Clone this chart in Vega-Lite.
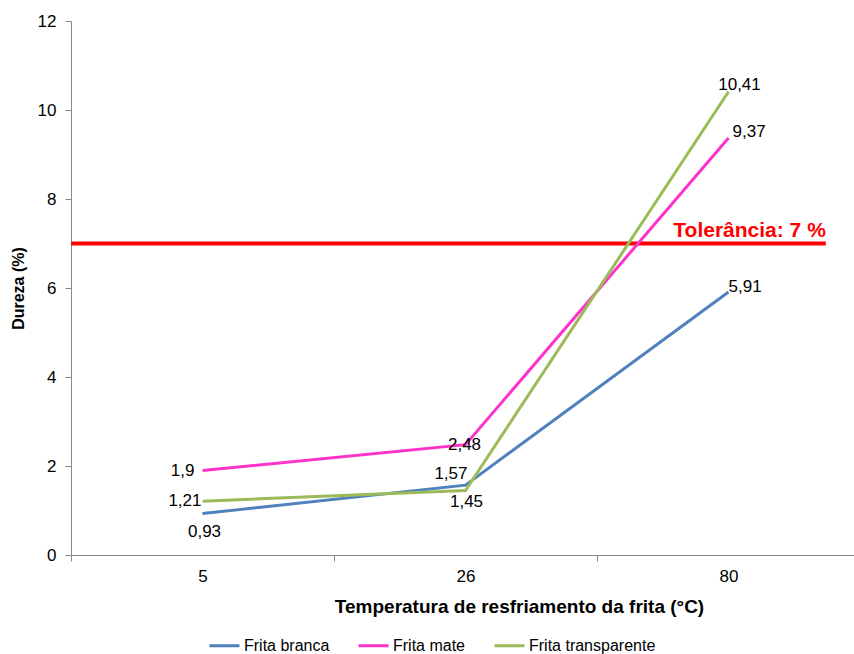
{
  "$schema": "https://vega.github.io/schema/vega-lite/v6.json",
  "width": 789,
  "height": 534,
  "autosize": {"type": "none"},
  "padding": {"left": 71, "top": 21, "right": 0, "bottom": 99},
  "background": "white",
  "config": {
    "view": {"stroke": null},
    "font": "Liberation Sans",
    "axis": {"labelFont": "Liberation Sans", "titleFont": "Liberation Sans", "labelColor": "#000", "titleColor": "#000", "domainColor": "#878787", "tickColor": "#878787", "grid": false, "labelFontSize": 17, "titleFontSize": 18, "titleFontWeight": "bold"}
  },
  "data": {
    "values": [
      {"temp": "5", "serie": "Frita branca", "dureza": 0.93, "rotulo": "0,93"},
      {"temp": "26", "serie": "Frita branca", "dureza": 1.57, "rotulo": "1,57"},
      {"temp": "80", "serie": "Frita branca", "dureza": 5.91, "rotulo": "5,91"},
      {"temp": "5", "serie": "Frita mate", "dureza": 1.9, "rotulo": "1,9"},
      {"temp": "26", "serie": "Frita mate", "dureza": 2.48, "rotulo": "2,48"},
      {"temp": "80", "serie": "Frita mate", "dureza": 9.37, "rotulo": "9,37"},
      {"temp": "5", "serie": "Frita transparente", "dureza": 1.21, "rotulo": "1,21"},
      {"temp": "26", "serie": "Frita transparente", "dureza": 1.45, "rotulo": "1,45"},
      {"temp": "80", "serie": "Frita transparente", "dureza": 10.41, "rotulo": "10,41"}
    ]
  },
  "encoding": {
    "x": {"field": "temp", "type": "ordinal", "sort": ["5", "26", "80"],
      "scale": {"type": "band", "paddingInner": 0, "paddingOuter": 0},
      "axis": {"title": "Temperatura de resfriamento da frita (°C)", "titleFontSize": 19, "titleX": 448, "labelAngle": 0, "tickBand": "extent", "tickSize": 6, "labelPadding": 7, "titlePadding": 13}},
    "y": {"field": "dureza", "type": "quantitative",
      "scale": {"domain": [0, 12], "nice": false},
      "axis": {"title": "Dureza (%)", "titleFontSize": 16, "values": [0, 2, 4, 6, 8, 10, 12], "tickSize": 6, "labelPadding": 9, "titlePadding": 11}}
  },
  "layer": [
    {
      "mark": {"type": "rule", "color": "#FF0000", "strokeWidth": 4},
      "data": {"values": [{"tol": 7}]},
      "encoding": {
        "x": {"datum": "5", "bandPosition": 0},
        "x2": {"datum": "80", "bandPosition": 0.87},
        "y": {"field": "tol", "type": "quantitative"}
      }
    },
    {
      "mark": {"type": "text", "color": "#FF0000", "fontSize": 21, "fontWeight": "bold", "align": "right", "baseline": "bottom", "dy": -3},
      "data": {"values": [{"tol": 7, "txt": "Tolerância: 7 %"}]},
      "encoding": {
        "x": {"datum": "80", "bandPosition": 0.87},
        "y": {"field": "tol", "type": "quantitative"},
        "text": {"field": "txt"}
      }
    },
    {
      "mark": {"type": "line", "strokeWidth": 3},
      "encoding": {
        "color": {"field": "serie", "type": "nominal",
          "scale": {"domain": ["Frita branca", "Frita mate", "Frita transparente"], "range": ["#4F81BD", "#FF33CC", "#9BBB59"]},
          "legend": {"title": null, "orient": "none", "direction": "horizontal", "legendX": 137, "legendY": 608, "symbolType": "stroke", "symbolSize": 900, "symbolStrokeWidth": 3, "labelFontSize": 16, "labelFont": "Liberation Sans", "labelColor": "#000", "columnPadding": 22, "labelOffset": 3}}
      }
    },
    {
      "transform": [{"filter": "datum.serie == 'Frita branca' && datum.temp == '5'"}],
      "mark": {"type": "text", "fontSize": 17, "align": "center", "baseline": "middle", "dx": 2, "dy": 18},
      "encoding": {"text": {"field": "rotulo"}}
    },
    {
      "transform": [{"filter": "datum.serie == 'Frita transparente' && datum.temp == '26'"}],
      "mark": {"type": "text", "fontSize": 17, "align": "center", "baseline": "middle", "dx": 1, "dy": 12},
      "encoding": {"text": {"field": "rotulo"}}
    },
    {
      "transform": [{"filter": "datum.serie == 'Frita mate' && datum.temp == '5'"}],
      "mark": {"type": "text", "fontSize": 17, "align": "right", "baseline": "middle", "dx": -8, "dy": 1},
      "encoding": {"text": {"field": "rotulo"}}
    },
    {
      "transform": [{"filter": "datum.serie == 'Frita transparente' && datum.temp == '5'"}],
      "mark": {"type": "text", "fontSize": 17, "align": "right", "baseline": "middle", "dx": -1, "dy": 0},
      "encoding": {"text": {"field": "rotulo"}}
    },
    {
      "transform": [{"filter": "datum.serie == 'Frita branca' && datum.temp == '26'"}],
      "mark": {"type": "text", "fontSize": 17, "align": "right", "baseline": "middle", "dx": 2, "dy": -11},
      "encoding": {"text": {"field": "rotulo"}}
    },
    {
      "transform": [{"filter": "datum.serie == 'Frita mate' && datum.temp == '26'"}],
      "mark": {"type": "text", "fontSize": 17, "align": "center", "baseline": "middle", "dx": -1, "dy": 0},
      "encoding": {"text": {"field": "rotulo"}}
    },
    {
      "transform": [{"filter": "datum.serie == 'Frita branca' && datum.temp == '80'"}],
      "mark": {"type": "text", "fontSize": 17, "align": "left", "baseline": "middle", "dx": 0, "dy": -5},
      "encoding": {"text": {"field": "rotulo"}}
    },
    {
      "transform": [{"filter": "datum.serie == 'Frita mate' && datum.temp == '80'"}],
      "mark": {"type": "text", "fontSize": 17, "align": "left", "baseline": "middle", "dx": 4, "dy": -6},
      "encoding": {"text": {"field": "rotulo"}}
    },
    {
      "transform": [{"filter": "datum.serie == 'Frita transparente' && datum.temp == '80'"}],
      "mark": {"type": "text", "fontSize": 17, "align": "center", "baseline": "middle", "dx": 11, "dy": -7},
      "encoding": {"text": {"field": "rotulo"}}
    }
  ]
}
